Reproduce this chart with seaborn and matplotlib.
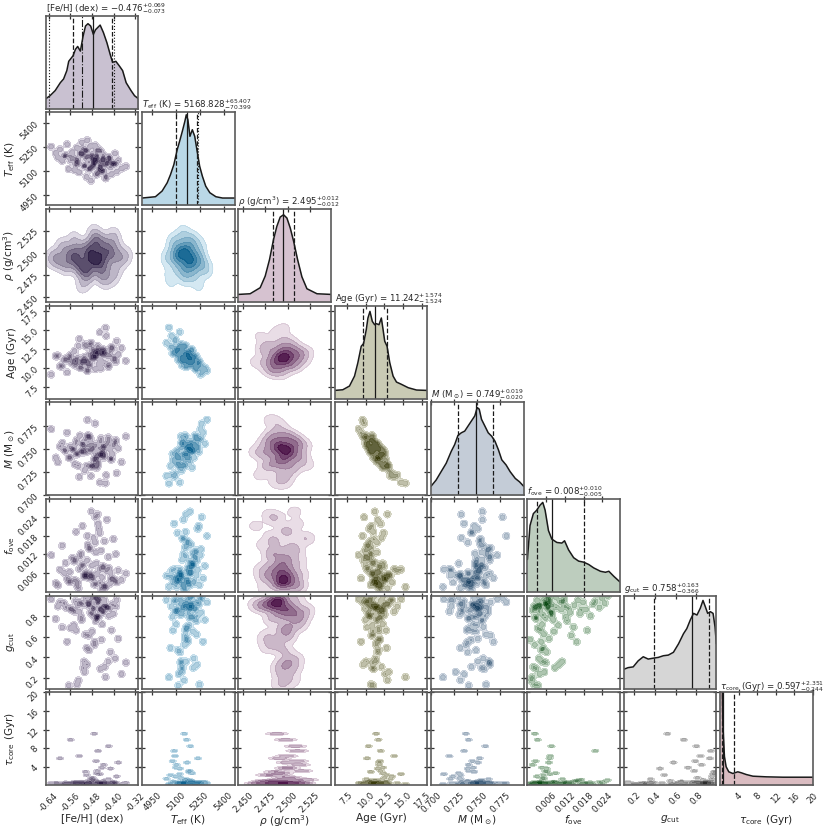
import numpy as np
import pandas as pd
import matplotlib
matplotlib.use("Agg")
import matplotlib.pyplot as plt
import seaborn as sns
from matplotlib.colors import LinearSegmentedColormap
from matplotlib.ticker import FormatStrFormatter

sns.set_theme(style="white")
plt.rcParams['font.family'] = ['DejaVu Sans']
plt.rcParams['mathtext.fontset'] = 'dejavusans'

# ---------------- posterior samples (read/estimated from the picture) ----------------
feh = [-0.476, -0.521, -0.433, -0.598, -0.452, -0.505, -0.389, -0.547, -0.468, -0.412,
       -0.530, -0.495, -0.441, -0.572, -0.458, -0.614, -0.420, -0.487, -0.536, -0.401,
       -0.463, -0.509, -0.447, -0.559, -0.428, -0.482, -0.371, -0.518, -0.492, -0.437,
       -0.583, -0.455, -0.500, -0.414, -0.541, -0.469, -0.395, -0.527, -0.445, -0.631,
       -0.478, -0.512, -0.425, -0.566, -0.461, -0.497, -0.408, -0.553, -0.472, -0.438,
       -0.590, -0.484, -0.449, -0.515, -0.383, -0.544, -0.466, -0.503, -0.430, -0.577,
       -0.459, -0.491, -0.418, -0.533, -0.474, -0.355, -0.524, -0.443, -0.606, -0.486,
       -0.451, -0.539, -0.405, -0.498, -0.465, -0.562, -0.434, -0.507, -0.480, -0.392]
teff = [5172, 5205, 5140, 5238, 5110, 5230, 5098, 5185, 5262, 5125,
        5150, 5196, 5178, 5270, 5089, 5215, 5163, 5120, 5248, 5145,
        5201, 5133, 5224, 5168, 5072, 5189, 5118, 5282, 5157, 5104,
        5193, 5236, 5066, 5181, 5139, 5175, 5212, 5094, 5160, 5254,
        5128, 5209, 5147, 5115, 5186, 5295, 5082, 5220, 5152, 5199,
        5166, 5041, 5137, 5244, 5170, 5108, 5229, 5183, 5056, 5202,
        5164, 5112, 5190, 5176, 5143, 5131, 5218, 5100, 5187, 5258,
        5124, 5161, 5153, 5232, 5079, 5195, 5171, 5135, 5206, 5148]
rho = [2.497, 2.483, 2.509, 2.491, 2.502, 2.478, 2.495, 2.514, 2.488, 2.499,
       2.506, 2.472, 2.493, 2.485, 2.511, 2.496, 2.501, 2.480, 2.490, 2.519,
       2.494, 2.504, 2.487, 2.498, 2.469, 2.508, 2.492, 2.482, 2.500, 2.513,
       2.489, 2.496, 2.477, 2.503, 2.494, 2.486, 2.510, 2.499, 2.474, 2.493,
       2.505, 2.490, 2.484, 2.497, 2.516, 2.481, 2.495, 2.502, 2.488, 2.476,
       2.507, 2.493, 2.498, 2.464, 2.500, 2.491, 2.512, 2.486, 2.496, 2.503,
       2.479, 2.494, 2.509, 2.489, 2.522, 2.497, 2.483, 2.501, 2.492, 2.506,
       2.487, 2.499, 2.473, 2.495, 2.511, 2.490, 2.485, 2.504, 2.496, 2.481]
age = [11.3, 10.6, 12.1, 10.2, 12.4, 11.0, 13.5, 10.9, 9.8, 11.6,
       12.9, 10.4, 11.9, 9.4, 12.0, 11.5, 10.1, 13.0, 10.7, 11.1,
       12.3, 11.4, 9.9, 11.7, 14.2, 11.2, 12.6, 10.0, 10.8, 11.8,
       11.0, 10.5, 12.8, 12.2, 10.3, 11.5, 11.3, 13.8, 11.9, 9.1,
       12.5, 10.9, 11.6, 11.0, 12.0, 9.6, 12.7, 10.6, 11.4, 12.4,
       10.2, 13.3, 11.1, 10.8, 11.8, 12.2, 11.5, 10.7, 15.3, 11.2,
       12.9, 11.7, 10.4, 11.3, 12.1, 10.9, 10.0, 12.3, 11.6, 10.3,
       14.7, 11.0, 12.6, 9.7, 11.9, 11.4, 10.6, 13.1, 11.8, 10.8]
mass = [0.752, 0.748, 0.744, 0.753, 0.744, 0.760, 0.724, 0.750, 0.778, 0.740,
        0.732, 0.754, 0.753, 0.768, 0.736, 0.741, 0.763, 0.732, 0.760, 0.754,
        0.730, 0.751, 0.762, 0.741, 0.722, 0.756, 0.736, 0.756, 0.765, 0.741,
        0.750, 0.751, 0.732, 0.750, 0.756, 0.740, 0.757, 0.720, 0.744, 0.772,
        0.731, 0.755, 0.756, 0.741, 0.741, 0.782, 0.739, 0.750, 0.738, 0.749,
        0.757, 0.721, 0.758, 0.747, 0.751, 0.734, 0.755, 0.747, 0.713, 0.748,
        0.733, 0.749, 0.759, 0.745, 0.733, 0.764, 0.765, 0.746, 0.736, 0.762,
        0.714, 0.745, 0.745, 0.764, 0.745, 0.753, 0.753, 0.727, 0.749, 0.760]
fove = [0.0042, 0.0123, 0.0019, 0.0071, 0.0188, 0.0053, 0.0031, 0.0098, 0.0239, 0.0062,
        0.0012, 0.0151, 0.0079, 0.0044, 0.0218, 0.0028, 0.0112, 0.0057, 0.0022, 0.0169,
        0.0091, 0.0048, 0.0132, 0.0033, 0.0068, 0.0257, 0.0039, 0.0083, 0.0141, 0.0017,
        0.0061, 0.0202, 0.0051, 0.0027, 0.0103, 0.0158, 0.0037, 0.0073, 0.0009, 0.0118,
        0.0049, 0.0088, 0.0231, 0.0034, 0.0058, 0.0179, 0.0043, 0.0109, 0.0024, 0.0081,
        0.0148, 0.0052, 0.0029, 0.0211, 0.0069, 0.0038, 0.0127, 0.0063, 0.0016, 0.0093,
        0.0248, 0.0045, 0.0077, 0.0032, 0.0173, 0.0059, 0.0114, 0.0047, 0.0021, 0.0137,
        0.0072, 0.0192, 0.0041, 0.0101, 0.0026, 0.0064, 0.0162, 0.0054, 0.0085, 0.0121]
gcut = [0.88, 0.79, 0.31, 0.93, 0.86, 0.62, 0.95, 0.71, 0.97, 0.45,
        0.18, 0.90, 0.83, 0.55, 0.94, 0.77, 0.36, 0.91, 0.14, 0.82,
        0.98, 0.36, 0.87, 0.68, 0.89, 0.99, 0.24, 0.76, 0.61, 0.85,
        0.92, 0.80, 0.49, 0.87, 0.94, 0.55, 0.39, 0.84, 0.57, 0.96,
        0.81, 0.30, 0.88, 0.13, 0.78, 0.93, 0.66, 0.86, 0.52, 0.90,
        0.69, 0.95, 0.29, 0.91, 0.58, 0.84, 0.75, 0.97, 0.21, 0.88,
        0.92, 0.47, 0.80, 0.90, 0.86, 0.35, 0.93, 0.72, 0.89, 0.83,
        0.96, 0.66, 0.91, 0.33, 0.79, 0.87, 0.95, 0.26, 0.65, 0.89]
tau = [0.42, 0.71, 0.35, 5.8, 0.52, 0.28, 1.9, 0.61, 0.45, 3.6,
       0.38, 0.88, 0.55, 0.31, 7.4, 0.49, 1.3, 0.24, 0.66, 0.41,
       2.6, 0.57, 0.33, 9.8, 0.47, 1.1, 0.29, 0.74, 0.53, 4.4,
       0.37, 0.62, 2.2, 0.44, 0.26, 0.95, 0.58, 6.3, 0.39, 0.50,
       1.6, 0.34, 0.69, 0.22, 3.1, 0.46, 0.81, 0.40, 11.1, 0.56,
       0.30, 1.4, 0.51, 0.36, 4.9, 0.64, 0.43, 2.9, 0.27, 0.59,
       0.78, 0.48, 8.4, 0.32, 1.2, 0.54, 0.38, 3.8, 0.45, 0.67,
       2.4, 0.41, 0.60, 0.19, 5.2, 0.50, 1.0, 0.35, 0.72, 0.53]

# ---------------- marginal curves (height as fraction of panel) ----------------
feh_grid = [-0.651, -0.635, -0.616, -0.597, -0.585, -0.573, -0.566, -0.558, -0.550, -0.541,
            -0.533, -0.523, -0.513, -0.504, -0.495, -0.485, -0.475, -0.467, -0.450, -0.438,
            -0.425, -0.413, -0.404, -0.392, -0.379, -0.367, -0.354, -0.336, -0.323, -0.308]
feh_dens = [0.106, 0.14, 0.195, 0.28, 0.32, 0.41, 0.51, 0.54, 0.57, 0.64,
            0.67, 0.62, 0.78, 0.89, 0.915, 0.89, 0.80, 0.85, 0.90, 0.82,
            0.71, 0.585, 0.50, 0.51, 0.46, 0.41, 0.28, 0.195, 0.14, 0.106]
teff_grid = [4887, 4971, 5013, 5045, 5066, 5087, 5108, 5123, 5140, 5156, 5165,
             5175, 5188, 5203, 5218, 5235, 5249, 5266, 5287, 5313, 5351, 5393, 5469]
teff_dens = [0.079, 0.093, 0.154, 0.243, 0.332, 0.439, 0.60, 0.689, 0.796, 0.904, 0.975,
             0.921, 0.743, 0.814, 0.743, 0.564, 0.421, 0.314, 0.207, 0.136, 0.093, 0.079, 0.079]
rho_grid = [2.4444, 2.4576, 2.4690, 2.4747, 2.4796, 2.4841, 2.4879, 2.4917, 2.4955,
            2.4993, 2.5031, 2.5069, 2.5114, 2.5163, 2.5220, 2.5334, 2.5493]
rho_dens = [0.082, 0.089, 0.154, 0.279, 0.457, 0.671, 0.814, 0.914, 0.939,
            0.904, 0.796, 0.654, 0.457, 0.271, 0.143, 0.089, 0.082]
age_grid = [5.90, 6.97, 7.86, 8.53, 8.97, 9.42, 9.73, 10.09, 10.31, 10.58, 10.89, 11.20, 11.43,
            11.78, 12.09, 12.32, 12.54, 12.85, 13.21, 13.65, 14.10, 14.77, 15.66, 16.77, 18.20]
age_dens = [0.089, 0.096, 0.136, 0.243, 0.386, 0.564, 0.593, 0.743, 0.868, 0.939, 0.832, 0.796, 0.807,
            0.796, 0.868, 0.743, 0.618, 0.564, 0.386, 0.243, 0.179, 0.154, 0.118, 0.093, 0.089]
mass_grid = [0.7000, 0.7055, 0.7110, 0.7165, 0.7220, 0.7257, 0.7293, 0.7330, 0.7367, 0.7403,
             0.7440, 0.7477, 0.7503, 0.7525, 0.7550, 0.7587, 0.7623, 0.7661, 0.7697, 0.7734,
             0.7771, 0.7818, 0.7862, 0.7918, 0.7965, 0.8009]
mass_dens = [0.098, 0.164, 0.255, 0.345, 0.473, 0.545, 0.644, 0.673, 0.691, 0.745,
             0.80, 0.855, 0.945, 0.927, 0.818, 0.745, 0.673, 0.636, 0.582, 0.491,
             0.382, 0.327, 0.255, 0.182, 0.145, 0.098]
fove_grid = [0.0000, 0.00084, 0.00191, 0.00299, 0.00406, 0.00493, 0.00568, 0.00675, 0.00783,
             0.00944, 0.01105, 0.01191, 0.01320, 0.01482, 0.01643, 0.01804, 0.01965, 0.02127,
             0.02342, 0.02503, 0.02611, 0.02772, 0.02965]
fove_dens = [0.350, 0.715, 0.843, 0.880, 0.934, 0.964, 0.880, 0.661, 0.569,
             0.533, 0.526, 0.551, 0.453, 0.369, 0.332, 0.321, 0.296, 0.259,
             0.223, 0.212, 0.223, 0.168, 0.109]
gcut_grid = [0.100, 0.142, 0.191, 0.239, 0.288, 0.336, 0.385, 0.433, 0.482, 0.530, 0.579,
             0.628, 0.676, 0.708, 0.741, 0.773, 0.806, 0.838, 0.864, 0.886, 0.909, 0.935,
             0.961, 0.980, 0.993]
gcut_dens = [0.208, 0.226, 0.234, 0.299, 0.343, 0.318, 0.328, 0.336, 0.354, 0.361, 0.391,
             0.482, 0.591, 0.646, 0.737, 0.810, 0.792, 0.865, 0.949, 0.883, 0.810, 0.828,
             0.810, 0.664, 0.482]
tau_grid = [0.0, 0.22, 0.43, 0.58, 0.72, 0.94, 1.30, 1.88, 2.75, 3.83, 4.56, 5.65,
            7.09, 9.99, 13.61, 20.0]
tau_dens = [1.2, 1.6, 1.3, 0.71, 0.53, 0.31, 0.20, 0.145, 0.127, 0.145, 0.135, 0.116,
            0.098, 0.091, 0.087, 0.087]

# ---------------- summary statistics (from titles) ----------------
medians = [-0.476, 5168.828, 2.495, 11.242, 0.749, 0.008, 0.758, 0.597]
err_hi = [0.069, 65.407, 0.012, 1.574, 0.019, 0.010, 0.163, 2.351]
err_lo = [0.073, 70.399, 0.012, 1.524, 0.020, 0.005, 0.366, 0.244]

labels = ["[Fe/H] (dex)", r"$T_{\rm eff}$ (K)", r"$\rho$ (g/cm$^3$)", "Age (Gyr)",
          r"$M$ (M$_\odot$)", r"$f_{\rm ove}$", r"$g_{\rm cut}$", r"$\tau_{\rm core}$ (Gyr)"]
titles = [r"[Fe/H] (dex) = $-0.476^{+0.069}_{-0.073}$",
          r"$T_{\rm eff}$ (K) = $5168.828^{+65.407}_{-70.399}$",
          r"$\rho$ (g/cm$^3$) = $2.495^{+0.012}_{-0.012}$",
          r"Age (Gyr) = $11.242^{+1.574}_{-1.524}$",
          r"$M$ (M$_\odot$) = $0.749^{+0.019}_{-0.020}$",
          r"$f_{\rm ove}$ = $0.008^{+0.010}_{-0.005}$",
          r"$g_{\rm cut}$ = $0.758^{+0.163}_{-0.366}$",
          r"$\tau_{\rm core}$ (Gyr) = $0.597^{+2.351}_{-0.244}$"]
tick_vals = [[-0.64, -0.56, -0.48, -0.40, -0.32], [4950, 5100, 5250, 5400],
             [2.450, 2.475, 2.500, 2.525], [7.5, 10.0, 12.5, 15.0, 17.5],
             [0.700, 0.725, 0.750, 0.775], [0.006, 0.012, 0.018, 0.024],
             [0.2, 0.4, 0.6, 0.8], [4, 8, 12, 16, 20]]
tick_fmt = ["%.2f", "%d", "%.3f", "%.1f", "%.3f", "%.3f", "%.1f", "%d"]
limits = [(-0.651, -0.309), (4887, 5469), (2.4443, 2.5493), (5.90, 18.20),
          (0.700, 0.801), (0.0, 0.0297), (0.100, 0.993), (0.0, 20.0)]

# literature [Fe/H] (value, sigma) and Teff reference lines
lit_feh = [-0.518, 0.119]
lit_teff = [5240]

samples = pd.DataFrame({"feh": feh, "teff": teff, "rho": rho, "age": age,
                        "mass": mass, "fove": fove, "gcut": gcut, "tau": tau})
cols = list(samples.columns)
grids = [feh_grid, teff_grid, rho_grid, age_grid, mass_grid, fove_grid, gcut_grid, tau_grid]
dens = [feh_dens, teff_dens, rho_dens, age_dens, mass_dens, fove_dens, gcut_dens, tau_dens]

dark = ["#2f2046", "#0f6390", "#4d1449", "#3a3b0c", "#1f4566", "#0b4a14", "#2c2c2c", "#7a4a55"]
light = ["#ddd7e3", "#d2e7f2", "#e8dce5", "#dcdccb", "#d6dde6", "#d0e0d1", "#dedede", "#e2c8cc"]
fills = ["#c9c1d1", "#bad8e7", "#d6c2d0", "#c9cab4", "#c4ccd7", "#bdcdbe", "#d6d6d6", "#dabcc1"]

# smoothing width (fraction of axis span) per parameter for 2D panels
smooth = [0.019, 0.019, 0.06, 0.019, 0.019, 0.019, 0.019, 0.008]
rel_levels = [0.04, 0.14, 0.3, 0.5, 0.7, 0.87]


def density2d(x, y, xlim, ylim, fx, fy, smooth_mode, n=160):
    gx = np.linspace(xlim[0], xlim[1], n)
    gy = np.linspace(ylim[0], ylim[1], n)
    hx = fx * (xlim[1] - xlim[0])
    hy = fy * (ylim[1] - ylim[0])
    kx = np.exp(-0.5 * ((gx[None, :] - np.asarray(x)[:, None]) / hx) ** 2)
    ky = np.exp(-0.5 * ((gy[None, :] - np.asarray(y)[:, None]) / hy) ** 2)
    z = ky.T @ kx
    zmax = z.max()
    if smooth_mode:
        lev = [zmax * r for r in rel_levels]
    else:
        top = max(0.9 * zmax, 1.6)
        lev = [0.12, 0.45] + list(np.geomspace(1.05, top, 4))
        lev = sorted(set(v for v in lev if v < zmax))
    return gx, gy, z, lev + [zmax * 1.01]


n = len(cols)
fig, axes = plt.subplots(n, n, figsize=(8.31, 8.31), dpi=100)
plt.subplots_adjust(left=0.055, right=0.978, bottom=0.055, top=0.981, wspace=0.04, hspace=0.04)

spine_col = "#5a5a5a"
for i in range(n):
    for j in range(n):
        ax = axes[i, j]
        if j > i:
            ax.set_visible(False)
            continue
        if i == j:
            g = grids[i]
            d = dens[i]
            ax.fill_between(g, 0, d, color=fills[i], lw=0)
            sns.lineplot(x=g, y=d, ax=ax, color="k", lw=1.1, sort=False)
            q = [medians[i] - err_lo[i], medians[i], medians[i] + err_hi[i]]
            for v, ls in zip(q, ["--", "-", "--"]):
                ax.axvline(v, color="k", lw=0.9, ls=ls)
            if i == 0:
                ax.axvline(lit_feh[0], color="k", lw=0.8, ls="-.")
                ax.axvline(lit_feh[0] - lit_feh[1], color="k", lw=0.8, ls=":")
                ax.axvline(lit_feh[0] + lit_feh[1], color="k", lw=0.8, ls=":")
            if i == 1:
                ax.axvline(lit_teff[0], color="k", lw=0.8, ls=":")
            ax.set_ylim(0, 1)
            ax.set_yticks([])
            ax.set_title(titles[i], loc="left", fontsize=6.2, pad=2.0)
        else:
            xs = samples[cols[j]].to_numpy()
            ys = samples[cols[i]].to_numpy()
            fx, fy = smooth[j], smooth[i]
            smooth_mode = (i == 2 or j == 2) and i != 7
            if smooth_mode:
                fx, fy = max(fx, 0.045), max(fy, 0.045)
            gx, gy, z, lev = density2d(xs, ys, limits[j], limits[i], fx, fy, smooth_mode)
            cmap = LinearSegmentedColormap.from_list("c%d" % j, [light[j], dark[j]])
            cols_f = [cmap(t) for t in np.linspace(0, 1, 6)][:len(lev) - 1]
            ax.contourf(gx, gy, z, levels=lev, colors=cols_f, alpha=0.95)
            ax.contour(gx, gy, z, levels=lev[:-1], colors=[dark[j]], linewidths=0.3, alpha=0.22)
            ax.set_ylim(limits[i])
            ax.set_yticks(tick_vals[i])
        ax.set_xlim(limits[j])
        ax.set_xticks(tick_vals[j])
        ax.set_xlabel("")
        ax.set_ylabel("")
        ax.tick_params(direction="inout", length=5, width=0.9, color="#333333",
                       top=True, right=(i != j), left=(i != j), labelsize=6.2, pad=1.5)
        for s in ax.spines.values():
            s.set_color(spine_col)
            s.set_linewidth(1.2)
        if i == n - 1:
            ax.xaxis.set_major_formatter(FormatStrFormatter(tick_fmt[j]))
            for lab in ax.get_xticklabels():
                lab.set_rotation(45)
            ax.set_xlabel(labels[j], fontsize=7.6)
            ax.xaxis.set_label_coords(0.5, -0.30)
        else:
            ax.set_xticklabels([])
        if j == 0 and i > 0:
            ax.yaxis.set_major_formatter(FormatStrFormatter(tick_fmt[i]))
            for lab in ax.get_yticklabels():
                lab.set_rotation(45)
            ax.set_ylabel(labels[i], fontsize=7.6)
            ax.yaxis.set_label_coords(-0.31, 0.5)
        elif i != j:
            ax.set_yticklabels([])

fig.savefig("out.png", dpi=100)
